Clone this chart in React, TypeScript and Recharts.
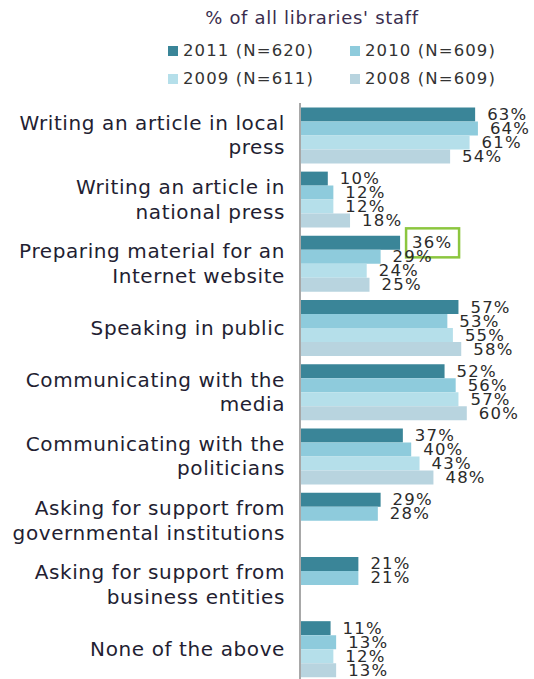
import React from 'react';
import { BarChart, Bar, XAxis, YAxis, LabelList } from 'recharts';

const categories = [
  'Writing an article in local\npress',
  'Writing an article in\nnational press',
  'Preparing material for an\nInternet website',
  'Speaking in public',
  'Communicating with the\nmedia',
  'Communicating with the\npoliticians',
  'Asking for support from\ngovernmental institutions',
  'Asking for support from\nbusiness entities',
  'None of the above',
];
const s2011 = [63, 10, 36, 57, 52, 37, 29, 21, 11];
const s2010 = [64, 12, 29, 53, 56, 40, 28, 21, 13];
const s2009 = [61, 12, 24, 55, 57, 43, null, null, 12];
const s2008 = [54, 18, 25, 58, 60, 48, null, null, 13];
const seriesKeys = ['y2011', 'y2010', 'y2009', 'y2008'];
const seriesNames = ['2011 (N=620)', '2010 (N=609)', '2009 (N=611)', '2008 (N=609)'];
const seriesColors = ['#3a8598', '#8ecbdc', '#b5dfea', '#b8d4df'];
const highlightIndex = 2;
const title = "% of all libraries' staff";

const data = categories.map((c, i) => ({
  name: c,
  y2011: s2011[i],
  y2010: s2010[i],
  y2009: s2009[i],
  y2008: s2008[i],
}));

const FONT = '"DejaVu Sans", Verdana, sans-serif';

const CatTick = (props: any) => {
  const { x, y, payload } = props;
  const lines = String(payload.value).split('\n');
  const lh = 24.5;
  const start = -((lines.length - 1) * lh) / 2;
  return (
    <g>
      {lines.map((l, i) => (
        <text
          key={i}
          x={x}
          y={y + start + i * lh}
          textAnchor="end"
          dominantBaseline="central"
          fontFamily={FONT}
          fontSize={20}
          letterSpacing={0.6}
          fill="#231e32"
        >
          {l}
        </text>
      ))}
    </g>
  );
};

const makeLabel = (highlight: boolean) => (props: any) => {
  const { x, y, width, height, value, index } = props;
  if (value === null || value === undefined) return null;
  const endX = x + width;
  const cy = y + height / 2;
  return (
    <g>
      {highlight && index === highlightIndex ? (
        <rect x={endX + 6} y={cy - 14.5} width={53} height={29} fill="none" stroke="#8cc63f" strokeWidth={2.5} />
      ) : null}
      <text
        x={endX + 12}
        y={cy}
        dominantBaseline="central"
        fontFamily={FONT}
        fontSize={16.5}
        letterSpacing={1.2}
        fill="#2b2b2b"
      >
        {`${value}%`}
      </text>
    </g>
  );
};

export default function App() {
  return (
    <div style={{ position: 'fixed', top: 0, left: 0, width: 534, height: 679, overflow: 'hidden', background: '#fff' }}>
      <div
        style={{
          position: 'absolute',
          top: 7,
          left: 0,
          width: 624,
          textAlign: 'center',
          fontFamily: FONT,
          fontSize: 18,
          letterSpacing: 0.7,
          color: '#3a2d4e',
        }}
      >
        {title}
      </div>
      {seriesNames.map((n, i) => (
        <div
          key={n}
          style={{
            position: 'absolute',
            left: i % 2 === 0 ? 168 : 350,
            top: i < 2 ? 41 : 69,
            display: 'flex',
            alignItems: 'center',
            fontFamily: FONT,
            fontSize: 16.5,
            letterSpacing: 1.1,
            color: '#333',
            whiteSpace: 'nowrap',
          }}
        >
          <span style={{ display: 'inline-block', width: 10, height: 10, background: seriesColors[i], marginRight: 5 }} />
          {n}
        </div>
      ))}
      <div style={{ position: 'absolute', top: 0, left: 0 }}>
        <BarChart
          width={534}
          height={690}
          data={data}
          layout="vertical"
          margin={{ top: 103, right: 11.6, bottom: 9, left: 0 }}
          barCategoryGap={4.4}
          barGap={0}
        >
          <XAxis type="number" domain={[0, 80]} hide />
          <YAxis
            type="category"
            dataKey="name"
            width={300}
            tickLine={false}
            tickSize={0}
            tickMargin={15}
            axisLine={{ stroke: '#a8a8a8', strokeWidth: 2 }}
            tick={<CatTick />}
            interval={0}
          />
          {seriesKeys.map((k, i) => (
            <Bar key={k} dataKey={k} fill={seriesColors[i]} isAnimationActive={false}>
              <LabelList dataKey={k} content={makeLabel(i === 0)} />
            </Bar>
          ))}
        </BarChart>
      </div>
    </div>
  );
}
